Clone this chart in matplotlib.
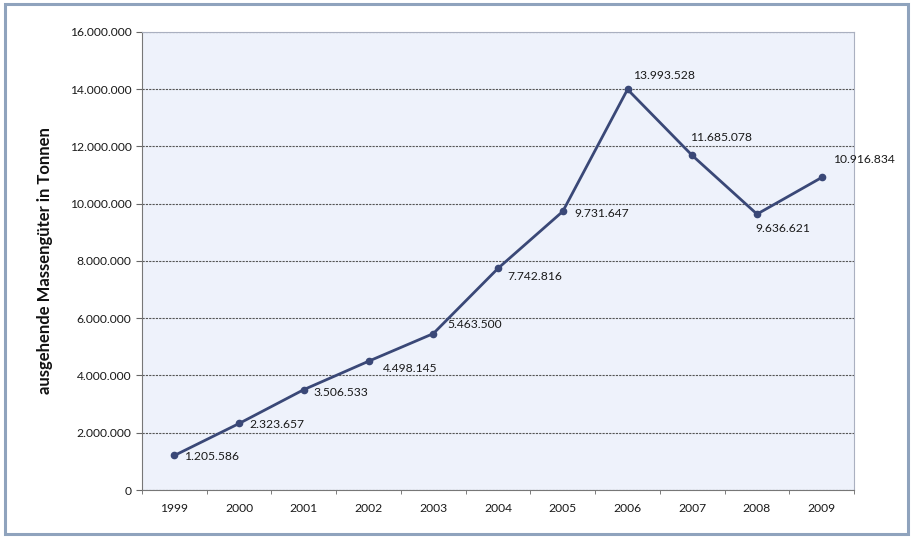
import matplotlib.pyplot as plt
from matplotlib.patches import Rectangle
from matplotlib.ticker import FuncFormatter, FixedLocator

plt.rcParams['font.family'] = ['Lato', 'DejaVu Sans']

# Daten
years = ['1999', '2000', '2001', '2002', '2003', '2004',
         '2005', '2006', '2007', '2008', '2009']
tonnen = [1205586, 2323657, 3506533, 4498145, 5463500, 7742816,
          9731647, 13993528, 11685078, 9636621, 10916834]
# Label-Versatz in Pixeln (x, y)
offsets = [(10, -1), (10, -1), (10, -3), (14, -7), (14, 9), (9, -8),
           (12, -2), (5, 14), (-2, 18), (-2, -14), (11, 18)]


def dotted(v):
    return f'{v:,.0f}'.replace(',', '.')


fig = plt.figure(figsize=(9.13, 5.37), dpi=100)
fig.patch.set_facecolor('white')
fig.add_artist(Rectangle((0.005, 0.006), 0.99, 0.987, transform=fig.transFigure,
                         fill=False, edgecolor='#8fa3bd', linewidth=2.2))

ax = fig.add_axes([0.1555, 0.0875, 0.78, 0.853])
ax.set_facecolor('#eef2fb')

x = list(range(len(years)))
ax.plot(x, tonnen, color='#3a4877', linewidth=2, marker='o', markersize=4.5,
        zorder=3)

for i, (v, off) in enumerate(zip(tonnen, offsets)):
    ax.annotate(dotted(v), (i, v), xytext=off, textcoords='offset pixels',
                ha='left', va='center', fontsize=8.7, color='#1a1a1a')

ax.set_xlim(-0.5, len(years) - 0.5)
ax.set_ylim(0, 16000000)
ax.set_xticks(x)
ax.set_xticklabels(years, fontsize=8.7, color='#1a1a1a')
ax.xaxis.set_minor_locator(FixedLocator([i - 0.5 for i in range(len(years) + 1)]))
ax.tick_params(axis='x', which='major', length=0, pad=9)
ax.tick_params(axis='x', which='minor', length=3, color='#666666')
ax.set_yticks(range(0, 16000001, 2000000))
ax.yaxis.set_major_formatter(FuncFormatter(lambda v, p: dotted(v)))
ax.tick_params(axis='y', labelsize=8.7, labelcolor='#1a1a1a', length=4,
               color='#666666')

ax.grid(axis='y', linestyle=(0, (2, 1)), color='#555555', linewidth=0.8)
ax.set_axisbelow(True)
for side in ['left', 'bottom']:
    ax.spines[side].set_color('#777777')
for side in ['top', 'right']:
    ax.spines[side].set_color('#aab0c0')
    ax.spines[side].set_linewidth(0.8)

ax.set_ylabel('ausgehende Massengüter in Tonnen', fontsize=12,
              fontweight='bold', labelpad=12, color='#111111')

fig.savefig('out.png', dpi=100)
